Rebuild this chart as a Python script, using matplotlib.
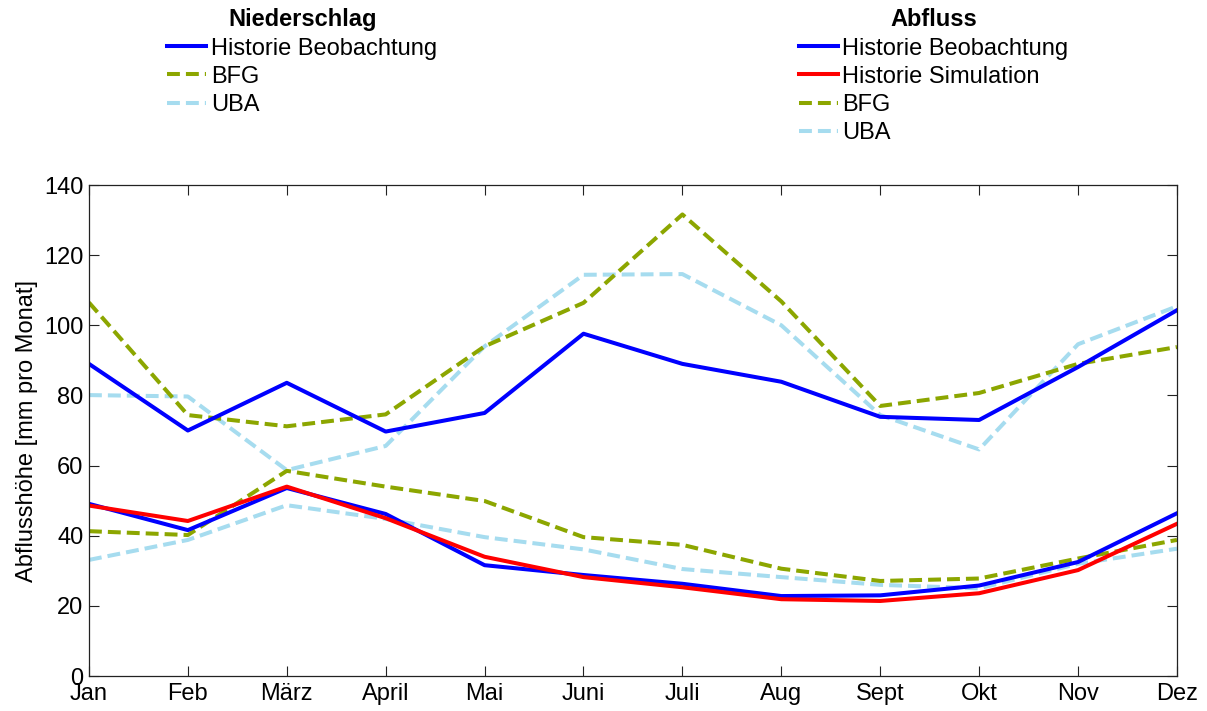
import matplotlib.pyplot as plt
from matplotlib.lines import Line2D

plt.rcParams['font.family'] = ['Liberation Sans', 'DejaVu Sans']

months = ['Jan', 'Feb', 'März', 'April', 'Mai', 'Juni', 'Juli', 'Aug', 'Sept', 'Okt', 'Nov', 'Dez']

# Niederschlag
ns_beob = [89.0, 70.0, 83.6, 69.7, 75.0, 97.6, 89.0, 83.9, 73.9, 73.0, 88.1, 104.3]
ns_bfg = [106.5, 74.4, 71.2, 74.6, 94.0, 106.4, 131.6, 106.8, 77.0, 80.7, 89.0, 93.8]
ns_uba = [80.1, 79.7, 58.7, 65.6, 94.0, 114.4, 114.6, 100.0, 74.4, 64.6, 94.6, 105.4]

# Abfluss
ab_beob = [49.1, 41.6, 53.6, 46.2, 31.6, 28.8, 26.3, 22.8, 23.0, 25.8, 32.5, 46.4]
ab_sim = [48.6, 44.2, 54.0, 45.0, 34.0, 28.2, 25.3, 21.9, 21.4, 23.6, 30.2, 43.4]
ab_bfg = [41.3, 40.2, 58.5, 54.0, 49.9, 39.6, 37.4, 30.6, 27.1, 27.8, 33.5, 38.8]
ab_uba = [33.1, 38.8, 48.7, 44.8, 39.6, 36.1, 30.5, 28.2, 26.0, 25.0, 32.0, 36.3]

BLUE = '#0000ff'
RED = '#ff0000'
OLIVE = '#8ca600'
LIGHT = '#a6dcef'
LW = 2.9
DASH = (3.2, 1.5)
FS = 17

fig = plt.figure(figsize=(12.07, 7.11), dpi=100)
ax = fig.add_axes([0.0737, 0.0492, 0.9014, 0.6906])
x = list(range(len(months)))

ax.plot(x, ns_uba, color=LIGHT, lw=LW, dashes=DASH)
ax.plot(x, ns_bfg, color=OLIVE, lw=LW, dashes=DASH)
ax.plot(x, ns_beob, color=BLUE, lw=LW)
ax.plot(x, ab_uba, color=LIGHT, lw=LW, dashes=DASH)
ax.plot(x, ab_bfg, color=OLIVE, lw=LW, dashes=DASH)
ax.plot(x, ab_beob, color=BLUE, lw=LW)
ax.plot(x, ab_sim, color=RED, lw=LW)

ax.set_xlim(0, 11)
ax.set_ylim(0, 140)
ax.set_xticks(x)
ax.set_xticklabels(months)
ax.set_yticks(range(0, 141, 20))
ax.tick_params(direction='in', length=7, width=0.8, labelsize=FS,
               top=True, right=True, colors='#222222', labelcolor='black')
ax.tick_params(axis='x', pad=5)
ax.tick_params(axis='y', pad=4)
for s in ax.spines.values():
    s.set_color('#222222')
    s.set_linewidth(0.9)
ax.set_ylabel('Abflusshöhe [mm pro Monat]', fontsize=FS, labelpad=4)

def handle(color, dashed):
    if dashed:
        return Line2D([], [], color=color, lw=LW, dashes=DASH)
    return Line2D([], [], color=color, lw=LW)

leg_kw = dict(loc='upper left', frameon=False, fontsize=FS, handlelength=1.65,
              handletextpad=0.2, labelspacing=0.26, borderpad=0.1,
              title_fontproperties={'weight': 'bold', 'size': FS})

fig.legend([handle(BLUE, False), handle(OLIVE, True), handle(LIGHT, True)],
           ['Historie Beobachtung', 'BFG', 'UBA'],
           bbox_to_anchor=(0.127, 1.008), title='Niederschlag', **leg_kw)
fig.legend([handle(BLUE, False), handle(RED, False), handle(OLIVE, True), handle(LIGHT, True)],
           ['Historie Beobachtung', 'Historie Simulation', 'BFG', 'UBA'],
           bbox_to_anchor=(0.65, 1.008), title='Abfluss', **leg_kw)

fig.savefig('out.png', dpi=100)
